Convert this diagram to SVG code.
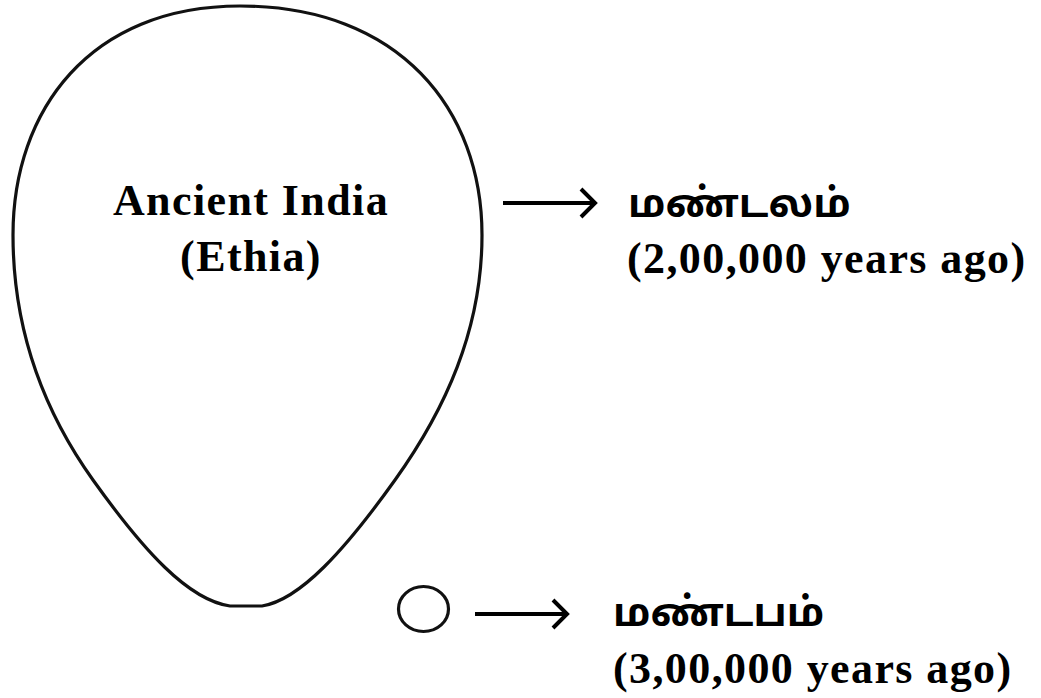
<svg xmlns="http://www.w3.org/2000/svg" width="1041" height="698" viewBox="0 0 1041 698">
<style>
.shape{fill:none;stroke:#111;stroke-width:3.2}
.conn{fill:none;stroke:#000;stroke-width:4;stroke-linecap:butt;stroke-linejoin:miter}
.en{font-family:"Liberation Serif","Times New Roman",serif;font-weight:bold;font-size:44px;fill:#000;letter-spacing:1.4px}
.ta{font-family:"Noto Sans Tamil","Latha","Noto Sans",sans-serif;font-weight:bold;font-size:40px;fill:#000}
</style>
<rect width="1041" height="698" fill="#fff"/>
<g id="ancient-india">
<path class="shape" d="M240 6 C400 6 482 110 482 235 C482 330 445 410 395 480 C345 550 300 600 262 606 L230 606 C188 600 143 550 93 480 C43 410 13 330 13 235 C13 110 90 6 240 6 Z"/>
<text class="en" x="251" y="215" text-anchor="middle">Ancient India</text>
<text class="en" x="251" y="271" text-anchor="middle">(Ethia)</text>
</g>
<g id="small-circle">
<ellipse class="shape" cx="423.5" cy="609" rx="25" ry="22.5"/>
</g>
<g id="label-mandalam">
<text class="ta" x="628" y="217">மண்டலம்</text>
<text class="en" x="627" y="273">(2,00,000 years ago)</text>
</g>
<g id="label-mandapam">
<text class="ta" x="613" y="626">மண்டபம்</text>
<text class="en" x="613" y="683">(3,00,000 years ago)</text>
</g>
<g id="connectors">
<path class="conn" d="M503 203 H594 M581 189 L595 203 L581 217"/>
<path class="conn" d="M475 614 H567 M553 600 L567 614 L553 628"/>
</g>
</svg>
